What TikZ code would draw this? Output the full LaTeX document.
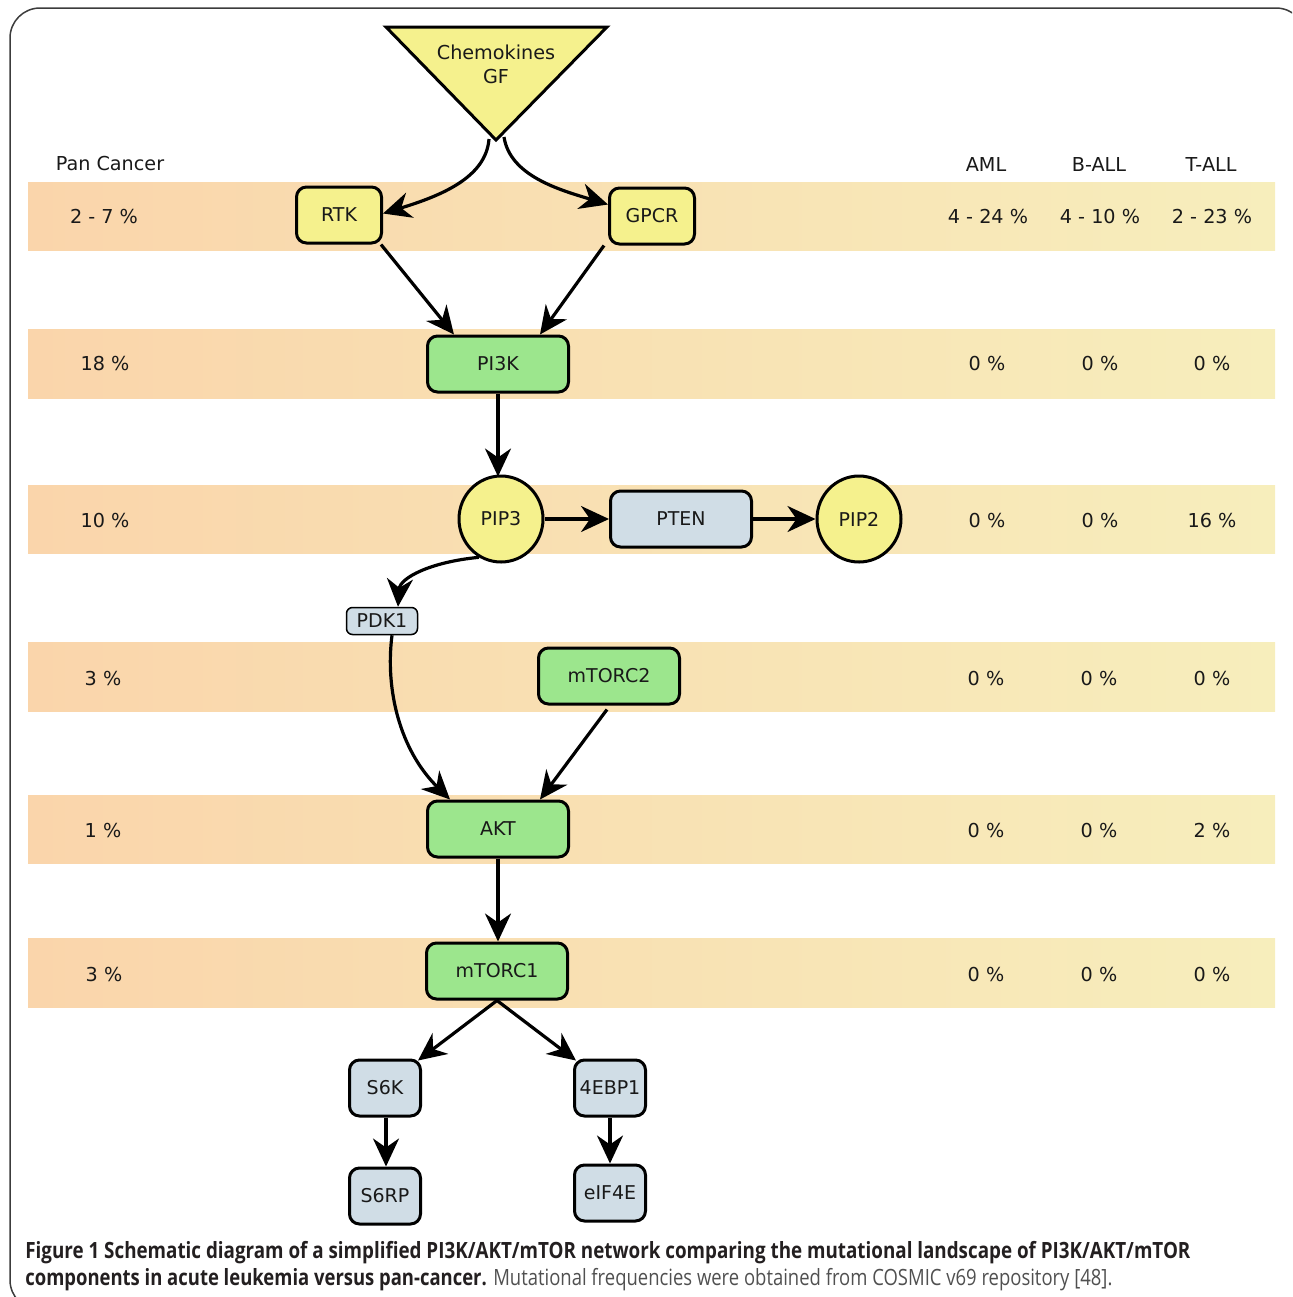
\documentclass[tikz,border=0pt]{standalone}
\usepackage{fontspec}
\usepackage{graphicx}
\usetikzlibrary{arrows.meta,calc,shapes.geometric}
\newfontfamily\dgfont{DejaVu Sans}
\newfontfamily\capfont{Open Sans}
\definecolor{bandL}{RGB}{250,213,171}
\definecolor{bandR}{RGB}{247,238,188}
\definecolor{yel}{RGB}{245,241,141}
\definecolor{grn}{RGB}{156,230,141}
\definecolor{gry}{RGB}{208,221,230}
\definecolor{frm}{RGB}{60,60,60}
\definecolor{captxt}{RGB}{35,31,32}
\definecolor{capreg}{RGB}{80,80,80}
\tikzset{
  bx/.style={draw, line width=1.5pt, rounded corners=5pt, inner sep=0pt,
    font=\dgfont\fontsize{9.5}{11}\selectfont, text=black!90},
  ybox/.style={bx, fill=yel, minimum width=42.5pt, minimum height=28pt},
  gbox/.style={bx, fill=grn, minimum width=70.5pt, minimum height=28pt},
  bbox/.style={bx, fill=gry, minimum width=35.5pt, minimum height=28pt},
  circ/.style={bx, ellipse, fill=yel, minimum width=42pt, minimum height=43pt},
  lbl/.style={font=\dgfont\fontsize{9.6}{11}\selectfont, text=black!90, inner sep=0pt},
  arr/.style={line width=1.6pt, -{Stealth[length=14pt,width=13pt,inset=4.5pt]}},
}
\begin{document}
\begin{tikzpicture}[x=0.5pt,y=-0.5pt]
\useasboundingbox (0,0) rectangle (1292,1297);
% frame
\begin{scope}
\clip (0,0) rectangle (1292,1297);
\draw[frm, line width=0.75pt, rounded corners=15pt] (10,8) rectangle (1306,1310);
\end{scope}
% bands
\foreach \ya/\yb in {182/250,329/398,485/553,642/711,795/863,938/1007}{
  \shade[left color=bandL, right color=bandR] (28,\ya) rectangle (1275,\yb);
}
% headers
\node[lbl] (hpan) at (110,164) {Pan Cancer};
\node[lbl] (haml) at (986,164) {AML};
\node[lbl] (hb) at (1099,164) {B-ALL};
\node[lbl] (ht) at (1211,164) {T-ALL};
% values
\node[lbl] (p1) at (104,217) {2 - 7 \%};
\node[lbl] (a1) at (988,217) {4 - 24 \%};
\node[lbl] (b1) at (1100,217) {4 - 10 \%};
\node[lbl] (t1) at (1212,217) {2 - 23 \%};
\node[lbl] (p2) at (105,364) {18 \%};
\node[lbl] (a2) at (987,364) {0 \%};
\node[lbl] (b2) at (1100,364) {0 \%};
\node[lbl] (t2) at (1212,364) {0 \%};
\node[lbl] (p3) at (105,520) {10 \%};
\node[lbl] (a3) at (987,520) {0 \%};
\node[lbl] (b3) at (1100,520) {0 \%};
\node[lbl] (t3) at (1212,520) {16 \%};
\node[lbl] (p4) at (103,678) {3 \%};
\node[lbl] (a4) at (986,678) {0 \%};
\node[lbl] (b4) at (1099,678) {0 \%};
\node[lbl] (t4) at (1212,678) {0 \%};
\node[lbl] (p5) at (103,830) {1 \%};
\node[lbl] (a5) at (986,830) {0 \%};
\node[lbl] (b5) at (1099,830) {0 \%};
\node[lbl] (t5) at (1212,830) {2 \%};
\node[lbl] (p6) at (104,974) {3 \%};
\node[lbl] (a6) at (986,974) {0 \%};
\node[lbl] (b6) at (1099,974) {0 \%};
\node[lbl] (t6) at (1212,974) {0 \%};
% triangle
\draw[line width=1.5pt, fill=yel, line join=miter] (386,27) -- (607,27) -- (496,140) -- cycle;
\node[lbl, align=center] (gf) at (496,64) {Chemokines\\[1pt]GF};
\coordinate (apexL) at (489,139);
\coordinate (apexR) at (504,137);
% nodes
\node[ybox] (rtk) at (339,215) {RTK};
\node[ybox] (gpcr) at (652,216) {GPCR};
\node[gbox] (pi3k) at (498,364) {PI3K};
\node[circ] (pip3) at (501,519) {PIP3};
\node[bx, fill=gry, minimum width=70.5pt, minimum height=28pt] (pten) at (681,519) {PTEN};
\node[circ] (pip2) at (859,519) {PIP2};
\node[bx, fill=gry, line width=0.75pt, rounded corners=3pt, minimum width=35.5pt, minimum height=13.5pt] (pdk1) at (382,621) {PDK1};
\node[gbox] (mtorc2) at (609,676) {mTORC2};
\node[gbox] (akt) at (498,829) {AKT};
\node[gbox] (mtorc1) at (497,971) {mTORC1};
\node[bbox] (s6k) at (385,1088) {S6K};
\node[bbox] (ebp) at (610,1088) {4EBP1};
\node[bbox] (s6rp) at (385,1196) {S6RP};
\node[bbox] (eif) at (610,1193) {eIF4E};
% connectors
\draw[arr] (apexL) .. controls (486,178) and (440,196) .. ([yshift=-14pt]rtk.north east);
\draw[arr] (apexR) .. controls (510,176) and (560,190) .. ([yshift=-9pt]gpcr.north west);
\draw[arr] ([xshift=-1pt]rtk.south east) -- ([xshift=-22pt]pi3k.north);
\draw[arr] ([xshift=-2pt]gpcr.south west) -- ([xshift=21pt]pi3k.north);
\draw[arr] (pi3k.south) -- ([yshift=-1pt]pip3.north -| pi3k.south);
\draw[arr] (pip3.east) -- (pten.west);
\draw[arr] (pten.east) -- (pip2.west);
\draw[arr] (pip3.240) .. controls (430,562) and (400,578) .. ([xshift=8pt]pdk1.north);
\draw[arr] ([xshift=5pt]pdk1.south) .. controls (385,690) and (400,750) .. ([xshift=-24pt]akt.north);
\draw[arr] ([xshift=-1pt,yshift=-2pt]mtorc2.south) -- ([xshift=21pt]akt.north);
\draw[arr] (akt.south) -- (mtorc1.north -| akt.south);
\draw[arr] (mtorc1.south) -- ([xshift=-2pt,yshift=-1pt]s6k.north east);
\draw[arr] (mtorc1.south) -- ([xshift=1.5pt,yshift=-1pt]ebp.north west);
\draw[arr] ([xshift=0.5pt]s6k.south) -- ([xshift=0.5pt]s6rp.north);
\draw[arr] (ebp.south) -- (eif.north);
% caption
\node[anchor=base west, inner sep=0pt, text=captxt] (cap1) at (25,1258)
  {\resizebox{582.5pt}{\height}{\capfont\fontsize{11.2}{13}\selectfont\bfseries Figure 1 Schematic diagram of a simplified PI3K/AKT/mTOR network comparing the mutational landscape of PI3K/AKT/mTOR}};
\node[anchor=base west, inner sep=0pt, text=captxt] (cap2) at (25,1285)
  {\resizebox{543.5pt}{\height}{\capfont\fontsize{11.2}{13}\selectfont{\bfseries components in acute leukemia versus pan-cancer.} \textcolor{capreg}{Mutational frequencies were obtained from COSMIC v69 repository [48].}}};
\end{tikzpicture}
\end{document}
